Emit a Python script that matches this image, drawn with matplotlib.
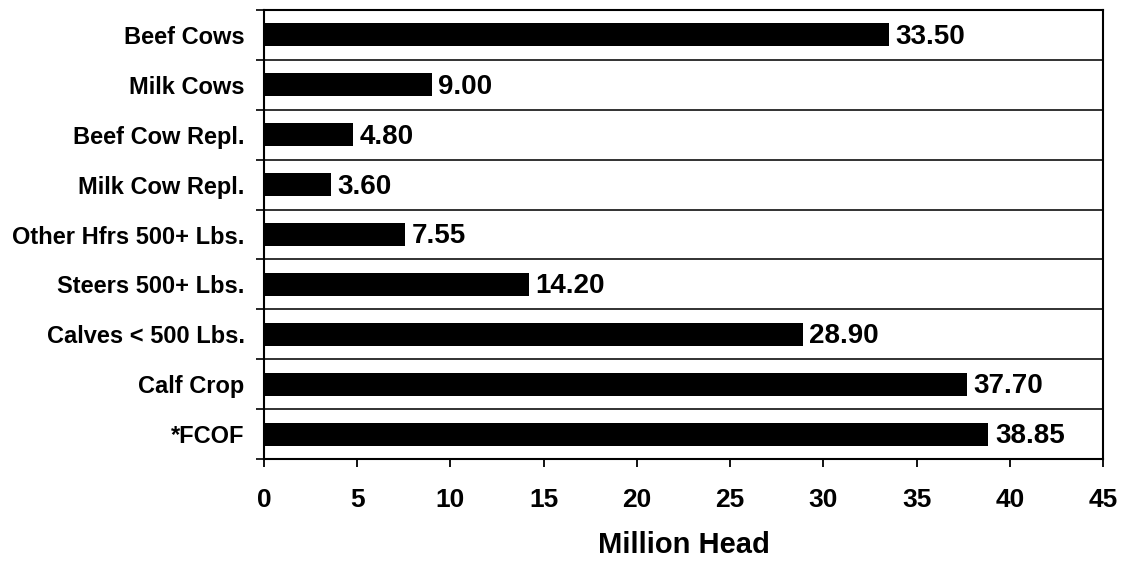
import numpy as np
import matplotlib.pyplot as plt

categories = ["Beef Cows", "Milk Cows", "Beef Cow Repl.", "Milk Cow Repl.",
              "Other Hfrs 500+ Lbs.", "Steers 500+ Lbs.", "Calves < 500 Lbs.",
              "Calf Crop", "*FCOF"]
values = [33.50, 9.00, 4.80, 3.60, 7.55, 14.20, 28.90, 37.70, 38.85]
value_labels = ["33.50", "9.00", "4.80", "3.60", "7.55", "14.20", "28.90", "37.70", "38.85"]

plt.rcParams['font.family'] = ['Liberation Sans', 'DejaVu Sans']
plt.rcParams['font.weight'] = 'bold'

fig = plt.figure(figsize=(11.21, 5.61), dpi=100)
ax = fig.add_axes([264/1121, 1-459/561, (1103-264)/1121, (459-10)/561])

y = np.arange(len(categories))
ax.barh(y, values, height=0.46, color='black')
for yi, v, lab in zip(y, values, value_labels):
    ax.text(v + 0.35, yi + 0.04, lab, va='center', ha='left',
            fontsize=20, fontweight='bold')

ax.set_ylim(len(categories) - 0.5, -0.5)
ax.set_xlim(0, 45)
ax.set_yticks(y)
ax.set_yticklabels(categories, fontsize=17, fontweight='bold')
ax.set_yticks(np.arange(-0.5, len(categories)), minor=True)
ax.tick_params(axis='y', which='major', length=0, pad=14)
ax.tick_params(axis='y', which='minor', length=6, width=1.2, direction='out')
ax.grid(axis='y', which='minor', color='#222222', linewidth=1.3)

ax.set_xticks(np.arange(0, 46, 5))
ax.tick_params(axis='x', length=6, width=1.3, direction='out', labelsize=19, pad=15)
for lab in ax.get_xticklabels():
    lab.set_fontweight('bold')
ax.set_xlabel("Million Head", fontsize=21, fontweight='bold', labelpad=13.5)

for s in ax.spines.values():
    s.set_linewidth(1.5)

fig.savefig("out.png", dpi=100)
